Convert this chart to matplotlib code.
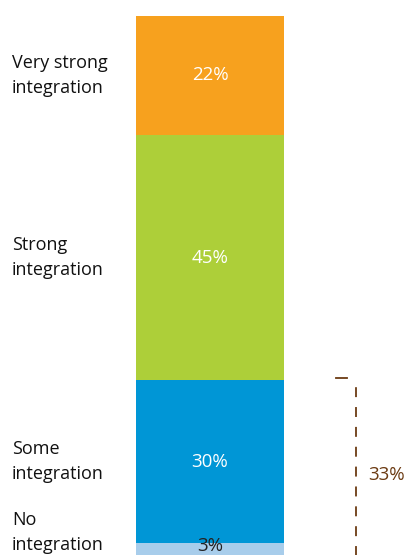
import matplotlib
matplotlib.use("Agg")
import matplotlib.pyplot as plt

# Share of respondents by level of integration (stacked from bottom to top)
categories = ["No\nintegration", "Some\nintegration", "Strong\nintegration", "Very strong\nintegration"]
values = [3, 30, 45, 22]
colors = ["#A8CDEB", "#0096D6", "#ADCF39", "#F7A11E"]
label_colors = ["#222222", "white", "white", "white"]
bracket_label = "33%"
bracket_value = values[0] + values[1]

plt.rcParams["font.family"] = ["Open Sans", "DejaVu Sans"]

W, H = 409, 555
fig = plt.figure(figsize=(W / 100, H / 100), dpi=100)
ax = fig.add_axes([0, 0, 1, 1])
ax.set_xlim(0, W)
ax.set_ylim(0.83, 102.85)
ax.axis("off")

bar_x, bar_w = 210, 148
bottom = 0
for cat, v, c, lc in zip(categories, values, colors, label_colors):
    ax.bar(bar_x, v, width=bar_w, bottom=bottom, color=c, linewidth=0)
    mid = bottom + v / 2
    ty = mid if v > 5 else mid + 0.9
    ax.text(bar_x, ty, f"{v}%", color=lc, fontsize=13.5, ha="center", va="center")
    ax.text(12, max(mid, 4.9), cat, color="#111111", fontsize=13, ha="left",
            va="center", linespacing=1.5)
    bottom += v

# Dashed bracket spanning the two lowest categories
brown = "#6B3A12"
ax.plot([356, 356], [0, bracket_value - 0.2], color=brown, lw=1.3,
        linestyle=(0, (5.5, 5.5)))
ax.plot([336, 347], [bracket_value + 0.3, bracket_value + 0.3], color=brown, lw=1.3)
ax.text(368, bracket_value * 0.47, bracket_label, color=brown, fontsize=13.5,
        ha="left", va="center")

fig.savefig("out.png", dpi=100)
